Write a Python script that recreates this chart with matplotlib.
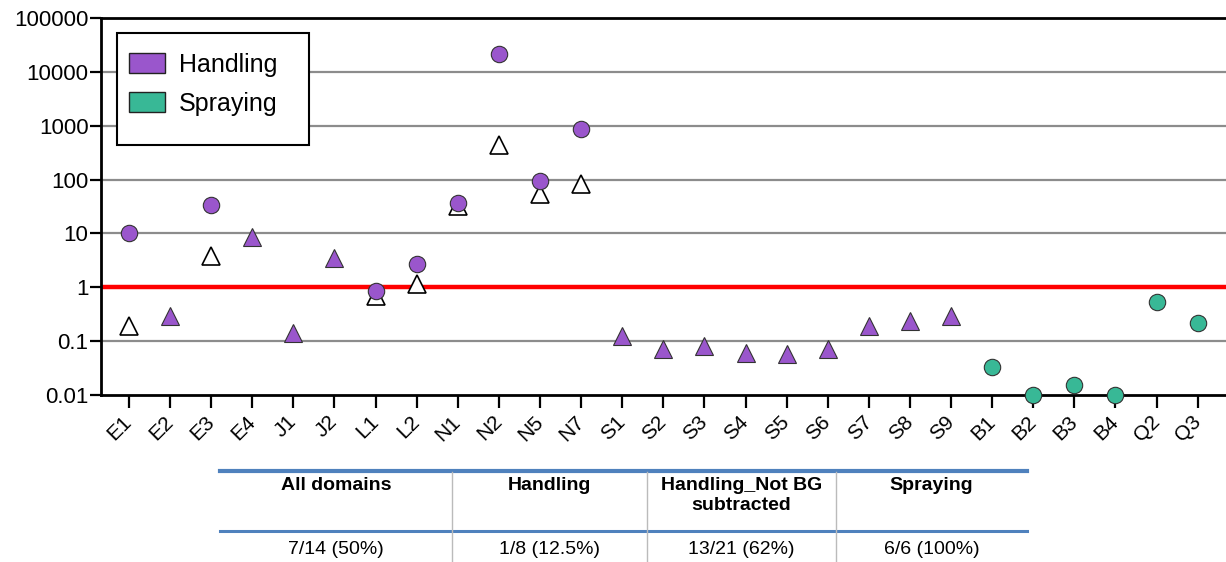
import matplotlib
matplotlib.use("Agg")
import matplotlib.pyplot as plt
from matplotlib.patches import Patch, Rectangle
from matplotlib.lines import Line2D

plt.rcParams['font.family'] = ['Liberation Sans', 'DejaVu Sans']

categories = ["E1","E2","E3","E4","J1","J2","L1","L2","N1","N2","N5","N7",
              "S1","S2","S3","S4","S5","S6","S7","S8","S9","B1","B2","B3","B4","Q2","Q3"]

# Handling (BG subtracted) circles
circ_cats = ["E1","E3","L1","L2","N1","N2","N5","N7"]
circ_vals = [10, 34, 0.85, 2.65, 36, 21100, 96, 865]
# Handling not BG subtracted (open triangles)
open_cats = ["E1","E3","L1","L2","N1","N2","N5","N7"]
open_vals = [0.19, 3.8, 0.68, 1.14, 32, 430, 55, 83]
# Handling (filled triangles)
tri_cats = ["E2","E4","J1","J2","S1","S2","S3","S4","S5","S6","S7","S8","S9"]
tri_vals = [0.29, 8.6, 0.143, 3.46, 0.124, 0.073, 0.081, 0.061, 0.057, 0.072, 0.19, 0.233, 0.29]
# Spraying circles
spr_cats = ["B1","B2","B3","B4","Q2","Q3"]
spr_vals = [0.033, 0.01, 0.0155, 0.01, 0.54, 0.22]

y_ticks = [0.01, 0.1, 1, 10, 100, 1000, 10000, 100000]
y_ticklabels = ["0.01", "0.1", "1", "10", "100", "1000", "10000", "100000"]

table_headers = ["All domains", "Handling", "Handling_Not BG\nsubtracted", "Spraying"]
table_values = ["7/14 (50%)", "1/8 (12.5%)", "13/21 (62%)", "6/6 (100%)"]

purple = "#9a56cc"
green = "#38b896"

W, H = 1226, 562
fig = plt.figure(figsize=(W/100, H/100), dpi=100)
ax_l, ax_r, ax_t, ax_b = 101, 1226, 18, 395
ax = fig.add_axes([ax_l/W, 1-ax_b/H, (ax_r-ax_l)/W, (ax_b-ax_t)/H])

idx = {c: i for i, c in enumerate(categories)}
ax.set_yscale('log')
ax.set_ylim(0.01, 100000)
ax.set_xlim(-0.68, 26.69)

for v in y_ticks[1:-1]:
    ax.axhline(v, color="#8c8c8c", lw=1.6, zorder=1)
ax.axhline(1, color="#ff0000", lw=3.2, zorder=2)

ax.plot([idx[c] for c in open_cats], open_vals, linestyle='none', marker='^',
        ms=12.5, mfc='white', mec='black', mew=1.2, zorder=3)
ax.plot([idx[c] for c in circ_cats], circ_vals, linestyle='none', marker='o',
        ms=11.8, mfc=purple, mec='#333333', mew=0.8, zorder=4)
ax.plot([idx[c] for c in tri_cats], tri_vals, linestyle='none', marker='^',
        ms=12.3, mfc=purple, mec='#333333', mew=0.8, zorder=4)
ax.plot([idx[c] for c in spr_cats], spr_vals, linestyle='none', marker='o',
        ms=11.8, mfc=green, mec='#333333', mew=0.8, zorder=4, clip_on=False)

ax.set_yticks(y_ticks)
ax.set_yticklabels(y_ticklabels, fontsize=16)
ax.yaxis.set_minor_locator(matplotlib.ticker.NullLocator())
ax.set_xticks(range(len(categories)))
ax.set_xticklabels(categories, rotation=45, fontsize=15, ha='right', va='center',
                   rotation_mode='anchor')
ax.tick_params(axis='x', length=9, width=1.6, pad=8)
ax.tick_params(axis='y', length=8, width=1.6, pad=1)
for s in ['left', 'bottom', 'top']:
    ax.spines[s].set_linewidth(2)
ax.spines['right'].set_visible(False)

def fx(x): return x / W
def fy(y): return 1 - y / H

# Legend box
fig.add_artist(Rectangle((fx(117), fy(145)), fx(309) - fx(117), fy(33) - fy(145),
                         transform=fig.transFigure, facecolor='white',
                         edgecolor='black', lw=1.5, zorder=5))
handles = [Patch(facecolor=purple, edgecolor='#222222', label='Handling'),
           Patch(facecolor=green, edgecolor='#222222', label='Spraying')]
leg = fig.legend(handles=handles, loc='upper left', bbox_to_anchor=(fx(129), fy(53)),
                 fontsize=18, frameon=False, handlelength=1.45, handleheight=0.85,
                 handletextpad=0.55, labelspacing=0.6, borderpad=0, borderaxespad=0)
leg.set_zorder(6)

# Table
blue = "#4f81bd"
fig.add_artist(Line2D([fx(220), fx(1027)], [fy(471), fy(471)], color=blue, lw=3))
fig.add_artist(Line2D([fx(220), fx(1027)], [fy(531), fy(531)], color=blue, lw=2.2))
col_edges = [220, 452, 647, 836, 1027]
for xs in col_edges[1:-1]:
    fig.add_artist(Line2D([fx(xs), fx(xs)], [fy(472), fy(562)], color="#bbbbbb", lw=1))
fam = ['Liberation Sans Narrow', 'Liberation Sans']
for i, (h, v) in enumerate(zip(table_headers, table_values)):
    cx = (col_edges[i] + col_edges[i+1]) / 2
    fig.text(fx(cx), fy(477), h, ha='center', va='top', fontsize=14, fontweight='bold',
             family=fam, linespacing=1.2)
    fig.text(fx(cx), fy(549), v, ha='center', va='center', fontsize=14, family=fam)

fig.savefig("out.png", dpi=100)
